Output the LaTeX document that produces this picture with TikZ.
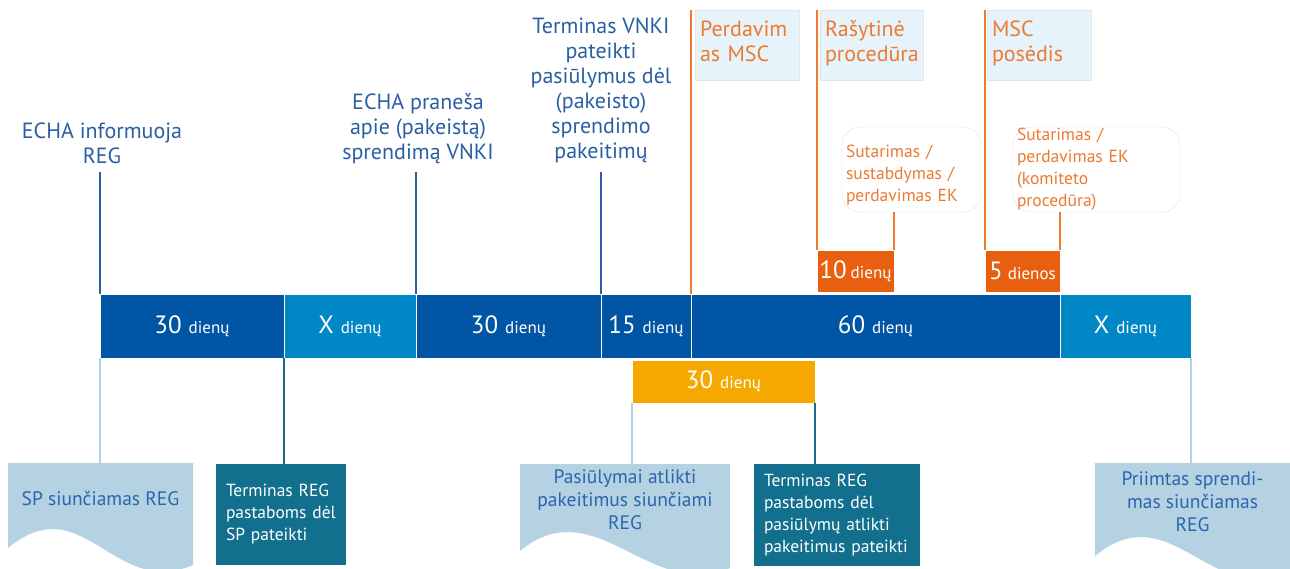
\documentclass[tikz,border=0pt]{standalone}
\usepackage{fontspec}
\setmainfont{PT Sans}
\usetikzlibrary{calc,backgrounds}

\definecolor{echadark}{HTML}{0055A4}
\definecolor{echalight}{HTML}{0088C6}
\definecolor{echatext}{HTML}{2A5FA3}
\definecolor{mscorange}{HTML}{EC7A30}
\definecolor{mscred}{HTML}{E8600F}
\definecolor{amber}{HTML}{F5A800}
\definecolor{regteal}{HTML}{126F8D}
\definecolor{regpale}{HTML}{B4D2E1}
\definecolor{regtext}{HTML}{2B65AF}
\definecolor{headpale}{HTML}{E6F3FA}

\tikzset{
  box/.style={anchor=north west, inner sep=0pt, outer sep=0pt},
  seg/.style={box, draw=white, line width=1pt, text=white},
  toplabel/.style={anchor=south, align=center, text=echatext, font=\fontsize{22}{25}\selectfont},
  head/.style={box, fill=headpale, draw=black!10, inner xsep=5pt, align=left, text=mscorange, font=\fontsize{22}{25}\selectfont},
  callout/.style={box, fill=white, draw=black!12, rounded corners=18pt, inner xsep=4pt, align=left, text=mscorange, font=\fontsize{17.5}{22}\selectfont},
  tealbox/.style={box, fill=regteal, inner xsep=10pt, align=left, text=white, font=\fontsize{17.5}{22}\selectfont},
  docbox/.style={box, align=center, text=regtext, font=\fontsize{19.5}{23}\selectfont},
  bluelink/.style={echatext, line width=1.5pt},
  orangelink/.style={mscorange, line width=1.5pt},
  palelink/.style={regpale, line width=1.5pt},
  teallink/.style={regteal, line width=1.5pt}
}

\newcommand{\days}[3][7pt]{{\fontsize{25}{30}\selectfont #2}\hspace{#1}{\fontsize{17}{20}\selectfont #3}}
\newcommand{\regwave}[1]{%
  \fill[regpale] (#1.north west) -- (#1.north east) -- ($(#1.south east)+(0,32)$)
    .. controls +(-80,34) and +(75,-62) .. ($(#1.south west)+(0,15)$) -- cycle;}

\begin{document}
\begin{tikzpicture}[x=1pt,y=-1pt]
\useasboundingbox (0,0) rectangle (1290,568);

% time bar
\node[seg, fill=echadark, minimum width=184, minimum height=64] (s1) at (100,294) {\days{30}{dienų}};
\node[seg, fill=echalight, minimum width=132, minimum height=64] (s2) at (284,294) {\days{X}{dienų}};
\node[seg, fill=echadark, minimum width=185, minimum height=64] (s3) at (416,294) {\days{30}{dienų}};
\node[seg, fill=echadark, minimum width=90, minimum height=64] (s4) at (601,294) {\days{15}{dienų}};
\node[seg, fill=echadark, minimum width=369, minimum height=64] (s5) at (691,294) {\days{60}{dienų}};
\node[seg, fill=echalight, minimum width=131, minimum height=64] (s6) at (1060,294) {\days{X}{dienų}};

\node[seg, fill=amber, minimum width=183, minimum height=43] (a30) at (632,360) {\days{30}{dienų}};
\node[seg, fill=mscred, minimum width=77, minimum height=42] (r10) at (817,250) {\days[4pt]{10}{dienų}};
\node[seg, fill=mscred, minimum width=75, minimum height=42] (r5) at (985,250) {\days[5pt]{5}{dienos}};

% labels above
\node[toplabel] (echa) at (102,167) {ECHA informuoja\\REG};
\node[toplabel] (pran) at (418,167) {ECHA praneša\\apie (pakeistą)\\sprendimą VNKI};
\node[toplabel] (vnki) at (601,166) {Terminas VNKI\\pateikti\\pasiūlymus dėl\\(pakeisto)\\sprendimo\\pakeitimų};

\draw[bluelink] (s1.north west) -- (s1.north west |- 0,172);
\draw[bluelink] (s3.north west) -- (s3.north west |- 0,172);
\draw[bluelink] (s4.north west) -- (s4.north west |- 0,172);

% MSC part
\node[head, minimum width=104, minimum height=70, text width=94] (perd) at (695,10) {Perdavim\\as MSC\rule[-8pt]{0pt}{0pt}};
\node[head, minimum width=103, minimum height=70, text width=93] (rasy) at (820,10) {Rašytinė\\procedūra\rule[-8pt]{0pt}{0pt}};
\node[head, minimum width=104, minimum height=70, text width=94] (posed) at (987,10) {MSC\\posėdis\rule[-8pt]{0pt}{0pt}};

\coordinate (p1) at (691,10);
\coordinate (p2) at (817,10);
\coordinate (p3) at (985,10);
\draw[orangelink] (p1) -- (s5.north west);
\draw[orangelink] (p2) -- (r10.north west);
\draw[orangelink] (p3) -- (r5.north west);

\node[callout, minimum width=139, minimum height=85, text width=131] (c1) at (842,127) {\rule{0pt}{23pt}Sutarimas /\\sustabdymas /\\perdavimas EK};
\node[callout, minimum width=167, minimum height=85, text width=159] (c2) at (1013,127) {Sutarimas /\\perdavimas EK\\(komiteto\\procedūra)};

\draw[orangelink] (r10.north east) -- (r10.north east |- c1.south);
\draw[orangelink] (r5.north east) -- (r5.north east |- c2.south);

% below
\node[docbox, minimum width=185, minimum height=70] (d1) at (8,463) {SP siunčiamas REG};
\node[tealbox, minimum width=130, minimum height=101, text width=110] (t1) at (216,464) {Terminas REG\\pastaboms dėl\\SP pateikti};
\node[docbox, minimum width=210, minimum height=72] (d2) at (520,464) {Pasiūlymai atlikti\\pakeitimus siunčiami\\REG};
\node[tealbox, minimum width=166, minimum height=102, text width=146] (t2) at (754,464) {Terminas REG\\pastaboms dėl\\pasiūlymų atlikti\\pakeitimus pateikti};
\node[docbox, minimum width=195, minimum height=78] (d3) at (1095,463) {Priimtas sprendi-\\mas siunčiamas\\REG};

\begin{scope}[on background layer]
\regwave{d1}
\regwave{d2}
\regwave{d3}
\end{scope}

\draw[palelink] (s1.south west) -- (d1.north -| s1.south west);
\draw[teallink] (s2.south west) -- (t1.north -| s2.south west);
\draw[palelink] (a30.south west) -- (d2.north -| a30.south west);
\draw[teallink] (a30.south east) -- (t2.north -| a30.south east);
\draw[palelink] (s6.south east) -- (d3.north -| s6.south east);
\end{tikzpicture}
\end{document}
